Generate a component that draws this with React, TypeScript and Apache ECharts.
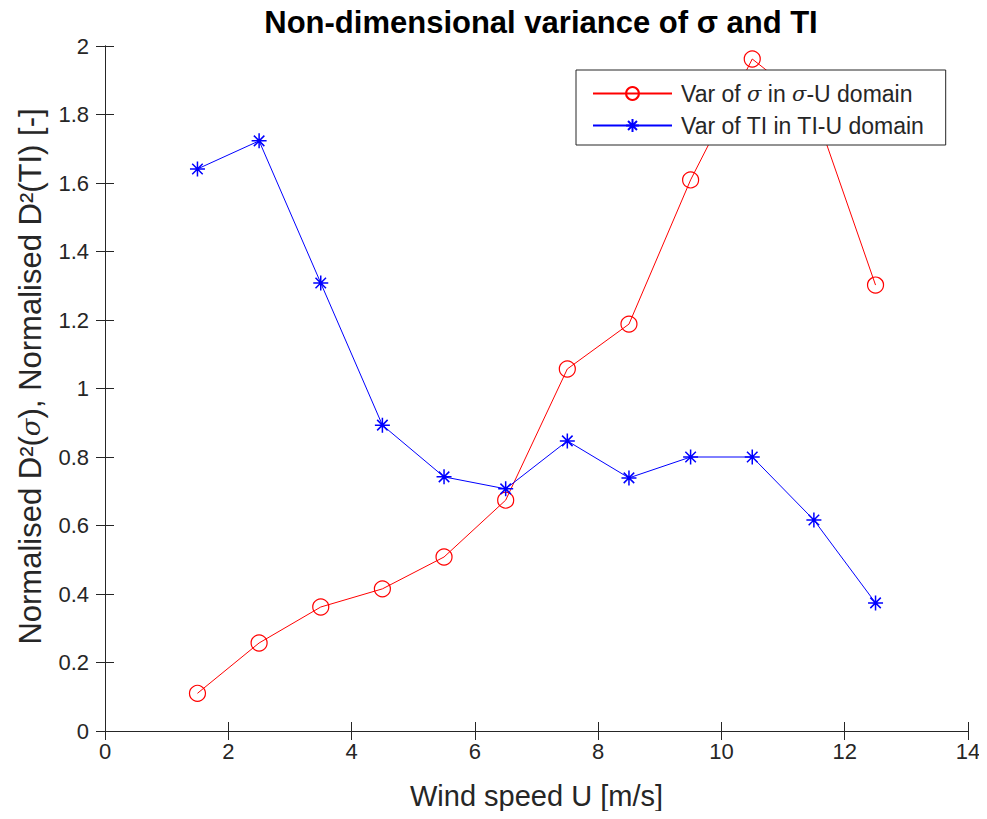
import React, { useEffect, useRef } from "react";
import * as echarts from "echarts";

const windSpeed = [1.5, 2.5, 3.5, 4.5, 5.5, 6.5, 7.5, 8.5, 9.5, 10.5, 11.5, 12.5];
const varSigma = [0.11, 0.257, 0.362, 0.415, 0.508, 0.674, 1.057, 1.188, 1.609, 1.962, 1.82, 1.302];
const varTI = [1.641, 1.723, 1.308, 0.893, 0.742, 0.707, 0.847, 0.739, 0.8, 0.8, 0.616, 0.374];
const seriesNames = ["Var of σ in σ-U domain", "Var of TI in TI-U domain"];

const AX = "#262626";
const FONT = "Liberation Sans, Arial, sans-serif";
const asterisk =
  "path://M0,-10 L0,10 M-10,0 L10,0 M-7,-7 L7,7 M-7,7 L7,-7";

export default function App() {
  const ref = useRef<HTMLDivElement>(null);
  useEffect(() => {
    if (!ref.current) return;
    const chart = echarts.init(ref.current, null, { renderer: "svg" });
    const axisCommon = {
      axisLine: { show: true, lineStyle: { color: AX, width: 1 } },
      axisTick: { show: true, inside: true, length: 9, lineStyle: { color: AX } },
      splitLine: { show: false },
    };
    const legendRich = {
      n: { fontFamily: FONT, fontSize: 23, color: AX, padding: [0, 0, 0, 0] },
      p: { fontFamily: FONT, fontSize: 23, color: AX, padding: [0, 0, 0, 4] },
      i: { fontFamily: "DejaVu Serif, serif", fontStyle: "italic", fontSize: 21, color: AX },
    };
    chart.setOption({
      animation: false,
      backgroundColor: "#fff",
      title: {
        text: "Non-dimensional variance of σ and TI",
        left: 536,
        textAlign: "center",
        top: 2,
        textStyle: { fontFamily: FONT, fontSize: 31, fontWeight: "bold", color: "#000" },
      },
      grid: { left: 105, right: 19, top: 46, bottom: 88 },
      legend: {
        left: 576,
        top: 70,
        orient: "vertical",
        align: "left",
        backgroundColor: "#fff",
        borderColor: AX,
        borderWidth: 1,
        padding: [12, 21, 8, 16],
        itemGap: 9,
        itemWidth: 79,
        itemHeight: 16,
        data: seriesNames,
        formatter: (name: string) =>
          name === seriesNames[0]
            ? "{p|Var of }{i|σ}{n| in }{i|σ}{n|-U domain}"
            : "{p|Var of TI in TI-U domain}",
        textStyle: { fontFamily: FONT, fontSize: 23, color: AX, rich: legendRich },
      },
      xAxis: [
        {
          type: "value",
          min: 0,
          max: 14,
          interval: 2,
          position: "bottom",
          ...axisCommon,
          axisLabel: { fontFamily: FONT, fontSize: 22, color: AX, margin: 9 },
          name: "Wind speed U [m/s]",
          nameLocation: "middle",
          nameGap: 50,
          nameTextStyle: { fontFamily: FONT, fontSize: 29, color: AX },
        },
        {
          type: "value",
          min: 0,
          max: 14,
          interval: 2,
          position: "top",
          ...axisCommon,
          axisLabel: { show: false },
        },
      ],
      yAxis: [
        {
          type: "value",
          min: 0,
          max: 2,
          interval: 0.2,
          position: "left",
          ...axisCommon,
          axisLabel: { fontFamily: FONT, fontSize: 22, color: AX, margin: 16 },
          name: "{n|Normalised D²(}{i|σ}{n|), Normalised D²(TI) [-]}",
          nameLocation: "middle",
          nameGap: 59,
          nameTextStyle: {
            fontFamily: FONT,
            fontSize: 31,
            color: AX,
            padding: [0, 0, 0, 24],
            rich: {
              n: { fontFamily: FONT, fontSize: 31, color: AX },
              i: { fontFamily: "DejaVu Serif, serif", fontStyle: "italic", fontSize: 26, color: AX },
            },
          },
        },
        {
          type: "value",
          min: 0,
          max: 2,
          interval: 0.2,
          position: "right",
          ...axisCommon,
          axisLabel: { show: false },
        },
      ],
      series: [
        {
          name: seriesNames[0],
          type: "line",
          data: windSpeed.map((x, i) => [x, varSigma[i]]),
          symbol: "circle",
          symbolSize: 16,
          showAllSymbol: true,
          lineStyle: { color: "#FF0000", width: 1 },
          itemStyle: { color: "none", borderColor: "#FF0000", borderWidth: 1.2 },
          z: 2,
        },
        {
          name: seriesNames[1],
          type: "line",
          data: windSpeed.map((x, i) => [x, varTI[i]]),
          symbol: asterisk,
          symbolSize: 15,
          showAllSymbol: true,
          lineStyle: { color: "#0000FF", width: 1 },
          itemStyle: { color: "none", borderColor: "#0000FF", borderWidth: 1.5 },
          z: 3,
        },
      ],
    });
    return () => chart.dispose();
  }, []);
  return <div ref={ref} style={{ width: 987, height: 819, margin: -8 }} />;
}
